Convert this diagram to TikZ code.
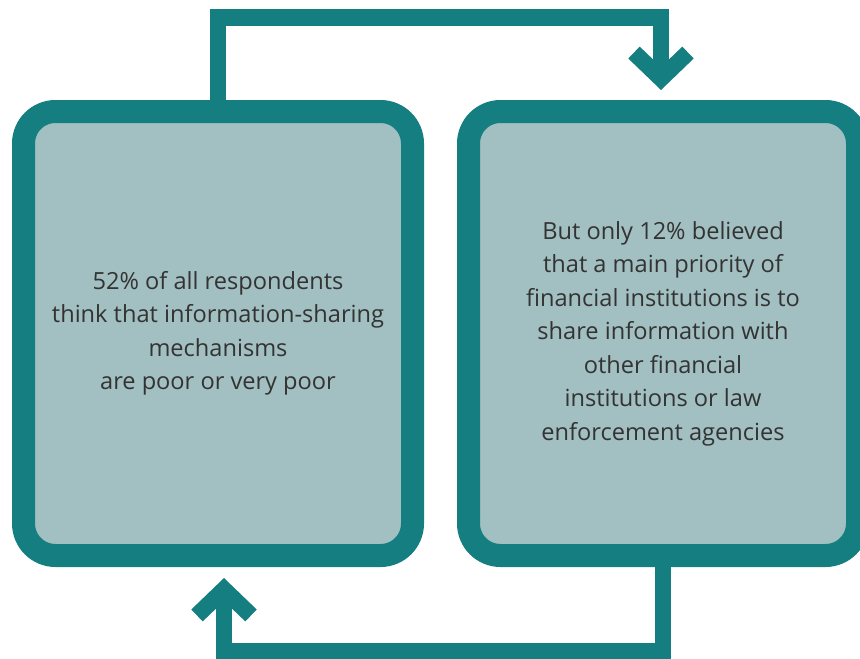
\documentclass[tikz,border=0pt]{standalone}
\usepackage{fontspec}
\setmainfont{Open Sans}
\usetikzlibrary{arrows.meta}
\definecolor{teal}{HTML}{147E80}
\definecolor{paleteal}{HTML}{A2BFC1}
\definecolor{inktext}{HTML}{333333}
\begin{document}
\begin{tikzpicture}[x=1pt,y=-1pt,
    box/.style={draw=teal,fill=paleteal,line width=23pt,rounded corners=32pt,
      minimum width=389pt,minimum height=444pt,align=center,text=inktext,
      font=\fontsize{23.6pt}{33.5pt}\selectfont},
    link/.style={draw=teal,line width=16.5pt,
      -{Straight Barb[sharp,length=26pt,width=54pt]}}]
  \useasboundingbox (0,0) rectangle (860,659);
  \node[box] (poor) at (218,333.5) {52\% of all respondents\\think that information-sharing\\mechanisms\\are poor or very poor};
  \node[box] (priority) at (663,333.5) {But only 12\% believed\\that a main priority of\\financial institutions is to\\share information with\\other financial\\institutions or law\\enforcement agencies};
  \coordinate (in1) at (661,90);
  \coordinate (in2) at (224,578);
  \draw[link] (poor.north) |- (661,17.5) -- (in1);
  \draw[link] (priority.south) |- (224,651) -- (in2);
\end{tikzpicture}
\end{document}
